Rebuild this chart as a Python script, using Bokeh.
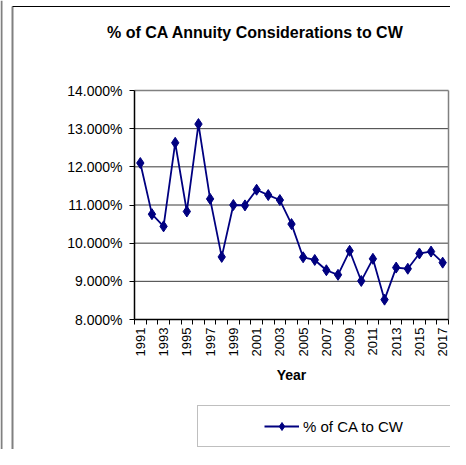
import math
from bokeh.plotting import figure
from bokeh.models import (Range1d, FixedTicker, PrintfTickFormatter, Legend, LegendItem,
                          Label, ColumnDataSource)
from bokeh.embed import file_html
from bokeh.resources import INLINE

# ---- data ----
years = [1991, 1992, 1993, 1994, 1995, 1996, 1997, 1998, 1999, 2000,
         2001, 2002, 2003, 2004, 2005, 2006, 2007, 2008, 2009, 2010,
         2011, 2012, 2013, 2014, 2015, 2016, 2017]
pct_ca_to_cw = [12.10, 10.76, 10.44, 12.63, 10.83, 13.12, 11.16, 9.64, 11.00, 10.99,
                11.40, 11.26, 11.13, 10.50, 9.63, 9.56, 9.29, 9.17, 9.80, 9.01,
                9.59, 8.52, 9.36, 9.33, 9.73, 9.78, 9.49]
year_labels = [1991, 1993, 1995, 1997, 1999, 2001, 2003, 2005, 2007, 2009,
               2011, 2013, 2015, 2017]
y_ticks = [8, 9, 10, 11, 12, 13, 14]
series_name = "% of CA to CW"
title_text = "% of CA Annuity Considerations to CW"
x_title = "Year"

FONT = "Liberation Sans"
NAVY = "#000080"

# ---- layout (canvas pixels) ----
W, H = 450, 449
PA_LEFT, PA_RIGHT = 134, 448      # plot-area left / right pixel columns
PA_TOP, PA_BOTTOM = 90, 319       # plot-area top (14 %) / bottom (8 %) pixel rows

x_lo, x_hi = years[0] - 0.5, years[-1] + 0.5
ppx = (PA_RIGHT - PA_LEFT) / (x_hi - x_lo)              # pixels per year
ppy = (PA_BOTTOM - PA_TOP) / (y_ticks[-1] - y_ticks[0])  # pixels per percent
xr_start = x_lo - PA_LEFT / ppx
xr_end = x_hi + (W - PA_RIGHT) / ppx
yr_end = y_ticks[-1] + PA_TOP / ppy
yr_start = y_ticks[0] - (H - PA_BOTTOM) / ppy


def dx(px):
    return xr_start + px / ppx


def dy(py):
    return yr_end - py / ppy


src = ColumnDataSource(dict(year=years, pct=pct_ca_to_cw))

p = figure(width=W, height=H, output_backend="svg", toolbar_location=None,
           x_range=Range1d(xr_start, xr_end), y_range=Range1d(yr_start, yr_end),
           min_border_left=0, min_border_right=0, min_border_top=0, min_border_bottom=0,
           background_fill_color="white", border_fill_color="white",
           outline_line_color=None)

# ---- chart-area borders ----
p.segment(x0=[dx(1), dx(12)], y0=[dy(0), dy(6)], x1=[dx(1), dx(12)], y1=[dy(H), dy(H)],
          line_color="#808080", line_width=2)
p.segment(x0=[dx(12)], y0=[dy(6)], x1=[dx(W)], y1=[dy(6)], line_color="black", line_width=1)

# ---- gridlines and plot-area border ----
p.xgrid.visible = False
p.ygrid.visible = False
p.segment(x0=[x_lo] * (len(y_ticks) - 2), y0=y_ticks[1:-1],
          x1=[x_hi] * (len(y_ticks) - 2), y1=y_ticks[1:-1],
          line_color="#3a3a3a", line_width=1)
p.segment(x0=[x_lo, x_hi], y0=[y_ticks[-1], y_ticks[0]], x1=[x_hi, x_hi],
          y1=[y_ticks[-1], y_ticks[-1]], line_color="#808080", line_width=1.5)

# ---- x axis at 8 % ----
boundaries = [y - 0.5 for y in years] + [years[-1] + 0.5]
xax = p.xaxis[0]
xax.fixed_location = y_ticks[0]
xax.bounds = (x_lo, x_hi)
xax.ticker = FixedTicker(ticks=year_labels, minor_ticks=boundaries)
xax.formatter = PrintfTickFormatter(format="%d")
xax.major_tick_line_color = None
xax.major_tick_out = 5
xax.major_tick_in = 0
xax.minor_tick_out = 5
xax.minor_tick_in = 0
xax.minor_tick_line_color = "black"
xax.axis_line_color = "black"
xax.axis_line_width = 1.5
xax.major_label_orientation = math.pi / 2
xax.major_label_standoff = 3
xax.major_label_text_font = FONT
xax.major_label_text_font_size = "13px"
xax.major_label_text_color = "black"
xax.axis_label = x_title
xax.axis_label_text_font = FONT
xax.axis_label_text_font_style = "bold"
xax.axis_label_text_font_size = "14px"
xax.axis_label_text_color = "black"
xax.axis_label_standoff = 8

# ---- y axis at the left of the plot area ----
yax = p.yaxis[0]
yax.fixed_location = x_lo
yax.bounds = (y_ticks[0], y_ticks[-1])
yax.ticker = FixedTicker(ticks=y_ticks)
yax.formatter = PrintfTickFormatter(format="%.3f%%")
yax.major_tick_out = 5
yax.major_tick_in = 0
yax.major_tick_line_color = "black"
yax.minor_tick_line_color = None
yax.axis_line_color = "black"
yax.axis_line_width = 1.5
yax.major_label_standoff = 7
yax.major_label_text_font = FONT
yax.major_label_text_font_size = "14px"
yax.major_label_text_color = "black"

# ---- series ----
line_r = p.line(x="year", y="pct", source=src, line_color=NAVY, line_width=1.8)
scat_r = p.scatter(x="year", y="pct", source=src, marker="diamond", size=11,
                   fill_color=NAVY, line_color=NAVY)
# invisible renderer used only to pad the legend box
pad_r = p.line(x="year", y="pct", source=src, line_alpha=0)

# ---- title ----
p.add_layout(Label(x=dx(255), y=dy(32), text=title_text, text_align="center",
                   text_baseline="middle", text_font=FONT, text_font_style="bold",
                   text_font_size="16px", text_color="black"))

# ---- legend ----
legend = Legend(items=[LegendItem(label=" ", renderers=[pad_r]),
                       LegendItem(label=series_name, renderers=[line_r, scat_r]),
                       LegendItem(label=" ", renderers=[pad_r])],
                orientation="horizontal", location=(197, 2), margin=0,
                border_line_color="#808080", border_line_width=1.5,
                background_fill_color="white", background_fill_alpha=1,
                padding=10, spacing=17, glyph_width=35, glyph_height=20, label_height=20,
                label_width=0, label_standoff=4, label_text_font=FONT,
                label_text_font_size="15px", label_text_color="black")
p.add_layout(legend, "center")

open("out.html", "w").write(file_html(p, INLINE))
